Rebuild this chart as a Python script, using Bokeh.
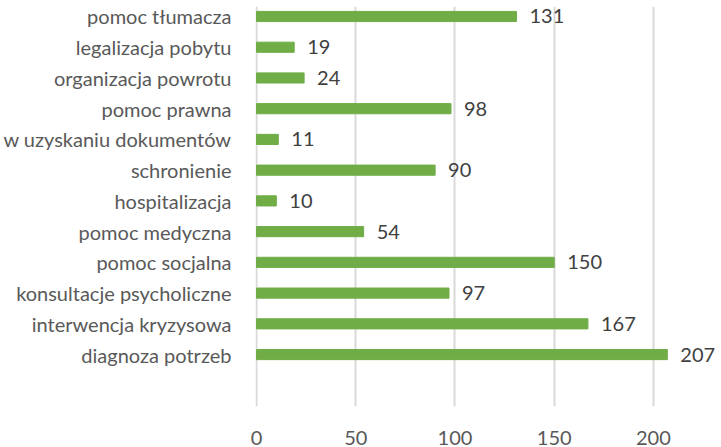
from bokeh.plotting import figure
from bokeh.models import ColumnDataSource, FixedTicker, Range1d
from bokeh.embed import file_html
from bokeh.resources import INLINE
from bokeh.core.properties import value

categories = ["pomoc tłumacza", "legalizacja pobytu", "organizacja powrotu", "pomoc prawna",
              "w uzyskaniu dokumentów", "schronienie", "hospitalizacja", "pomoc medyczna",
              "pomoc socjalna", "konsultacje psycholiczne", "interwencja kryzysowa", "diagnoza potrzeb"]
values = [131, 19, 24, 98, 11, 90, 10, 54, 150, 97, 167, 207]
x_ticks = [0, 50, 100, 150, 200]

n = len(categories)
ypos = [n - 1 - i for i in range(n)]
src = ColumnDataSource(dict(y=ypos, v=values, lbl=[str(v) for v in values], cat=categories))

FONT = "Lato"
p = figure(width=721, height=447, output_backend="svg", toolbar_location=None,
           x_range=Range1d(-0.5, 234.3), y_range=Range1d(-1.69, 11.325),
           min_border_left=0, min_border_right=0, min_border_top=6, min_border_bottom=0)
p.outline_line_color = None
p.background_fill_color = "white"
p.border_fill_color = "white"

p.hbar(y="y", left=0, right="v", height=0.33, source=src, color="#70AD47")
p.text(x="v", y="y", text="lbl", source=src, x_offset=13, text_align="left",
       text_baseline="middle", text_font=value(FONT), text_font_size="20px", text_color="#404040")

p.xaxis.ticker = FixedTicker(ticks=x_ticks)
p.xaxis.axis_line_color = None
p.xaxis.major_tick_line_color = None
p.xaxis.minor_tick_line_color = None
p.xaxis.major_label_standoff = 18
p.xaxis.major_label_text_font = FONT
p.xaxis.major_label_text_font_size = "20px"
p.xaxis.major_label_text_color = "#595959"

p.yaxis.ticker = FixedTicker(ticks=ypos)
p.yaxis.major_label_overrides = {y: c for y, c in zip(ypos, categories)}
p.yaxis.axis_line_color = None
p.yaxis.major_tick_line_color = None
p.yaxis.minor_tick_line_color = None
p.yaxis.major_label_standoff = 18
p.yaxis.major_label_text_font = FONT
p.yaxis.major_label_text_font_size = "20px"
p.yaxis.major_label_text_color = "#595959"

p.xgrid.ticker = FixedTicker(ticks=x_ticks)
p.xgrid.grid_line_color = "#d9d9d9"
p.xgrid.grid_line_width = 2
p.ygrid.grid_line_color = None

open("out.html", "w").write(file_html(p, INLINE))
